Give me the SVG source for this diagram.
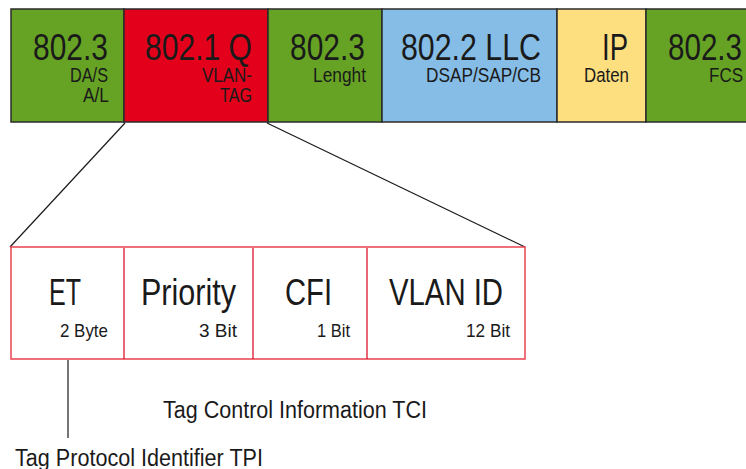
<svg xmlns="http://www.w3.org/2000/svg" width="746" height="469" viewBox="0 0 746 469">
<style>
text{font-family:"Liberation Sans",Arial,sans-serif;fill:#1a1a1a}
.big{font-size:36px}
.sm{font-size:20.5px}
.bs{font-size:19px}
.lbl{font-size:23px}
.cell{stroke:#2b2b2b;stroke-width:1.5}
.fld{fill:#fff;stroke:#e8414f;stroke-width:1.5}
.div{stroke:#d9001a;stroke-width:1.2}
.con{stroke:#1a1a1a;stroke-width:1.2;fill:none}
</style>
<rect width="746" height="469" fill="#fff"/>
<g id="frame">
<g id="n-dasa">
<rect class="cell" x="11" y="9" width="113" height="113" fill="#66a324"/>
<text class="big" x="33" y="60" textLength="75" lengthAdjust="spacingAndGlyphs">802.3</text>
<text class="sm" x="70" y="82" textLength="38" lengthAdjust="spacingAndGlyphs">DA/S</text>
<text class="sm" x="83" y="102" textLength="26" lengthAdjust="spacingAndGlyphs">A/L</text>
</g>
<g id="n-vlantag">
<rect class="cell" x="124" y="9" width="144" height="113" fill="#e2001a"/>
<text class="big" x="145" y="60" textLength="107" lengthAdjust="spacingAndGlyphs">802.1 Q</text>
<text class="sm" x="202" y="82" textLength="50" lengthAdjust="spacingAndGlyphs">VLAN-</text>
<text class="sm" x="220" y="102" textLength="32" lengthAdjust="spacingAndGlyphs">TAG</text>
</g>
<g id="n-length">
<rect class="cell" x="268" y="9" width="114" height="113" fill="#66a324"/>
<text class="big" x="290" y="60" textLength="75" lengthAdjust="spacingAndGlyphs">802.3</text>
<text class="sm" x="313" y="82" textLength="53" lengthAdjust="spacingAndGlyphs">Lenght</text>
</g>
<g id="n-llc">
<rect class="cell" x="382" y="9" width="175" height="113" fill="#86bde6"/>
<text class="big" x="401" y="60" textLength="140" lengthAdjust="spacingAndGlyphs">802.2 LLC</text>
<text class="sm" x="426" y="82" textLength="115" lengthAdjust="spacingAndGlyphs">DSAP/SAP/CB</text>
</g>
<g id="n-ip">
<rect class="cell" x="557" y="9" width="89" height="113" fill="#fddf80"/>
<text class="big" x="602" y="60" textLength="26" lengthAdjust="spacingAndGlyphs">IP</text>
<text class="sm" x="584" y="82" textLength="45" lengthAdjust="spacingAndGlyphs">Daten</text>
</g>
<g id="n-fcs">
<rect class="cell" x="646" y="9" width="120" height="113" fill="#66a324"/>
<text class="big" x="668" y="60" textLength="74" lengthAdjust="spacingAndGlyphs">802.3</text>
<text class="sm" x="709" y="82" textLength="34" lengthAdjust="spacingAndGlyphs">FCS</text>
</g>
</g>
<g id="connectors">
<line class="con" x1="125" y1="123" x2="10" y2="247"/>
<line class="con" x1="267" y1="123" x2="525" y2="247"/>
<line class="con" x1="68" y1="360" x2="68" y2="438"/>
</g>
<g id="tag">
<rect class="fld" x="11" y="247" width="514" height="112"/>
<g id="n-et">
<text class="big" x="49" y="305" textLength="32" lengthAdjust="spacingAndGlyphs">ET</text>
<text class="bs" x="60" y="337" textLength="48" lengthAdjust="spacingAndGlyphs">2 Byte</text>
</g>
<line class="div" x1="124" y1="248" x2="124" y2="359"/>
<g id="n-priority">
<text class="big" x="141" y="305" textLength="95" lengthAdjust="spacingAndGlyphs">Priority</text>
<text class="bs" x="199" y="337" textLength="38" lengthAdjust="spacingAndGlyphs">3 Bit</text>
</g>
<line class="div" x1="253" y1="248" x2="253" y2="359"/>
<g id="n-cfi">
<text class="big" x="285" y="305" textLength="47" lengthAdjust="spacingAndGlyphs">CFI</text>
<text class="bs" x="317" y="337" textLength="33" lengthAdjust="spacingAndGlyphs">1 Bit</text>
</g>
<line class="div" x1="367" y1="248" x2="367" y2="359"/>
<g id="n-vlanid">
<text class="big" x="389" y="305" textLength="114" lengthAdjust="spacingAndGlyphs">VLAN ID</text>
<text class="bs" x="466" y="337" textLength="44" lengthAdjust="spacingAndGlyphs">12 Bit</text>
</g>
</g>
<g id="n-tci">
<text class="lbl" x="163" y="418" textLength="264" lengthAdjust="spacingAndGlyphs">Tag Control Information TCI</text>
</g>
<g id="n-tpi">
<text class="lbl" x="15" y="466" textLength="248" lengthAdjust="spacingAndGlyphs">Tag Protocol Identifier TPI</text>
</g>
</svg>
